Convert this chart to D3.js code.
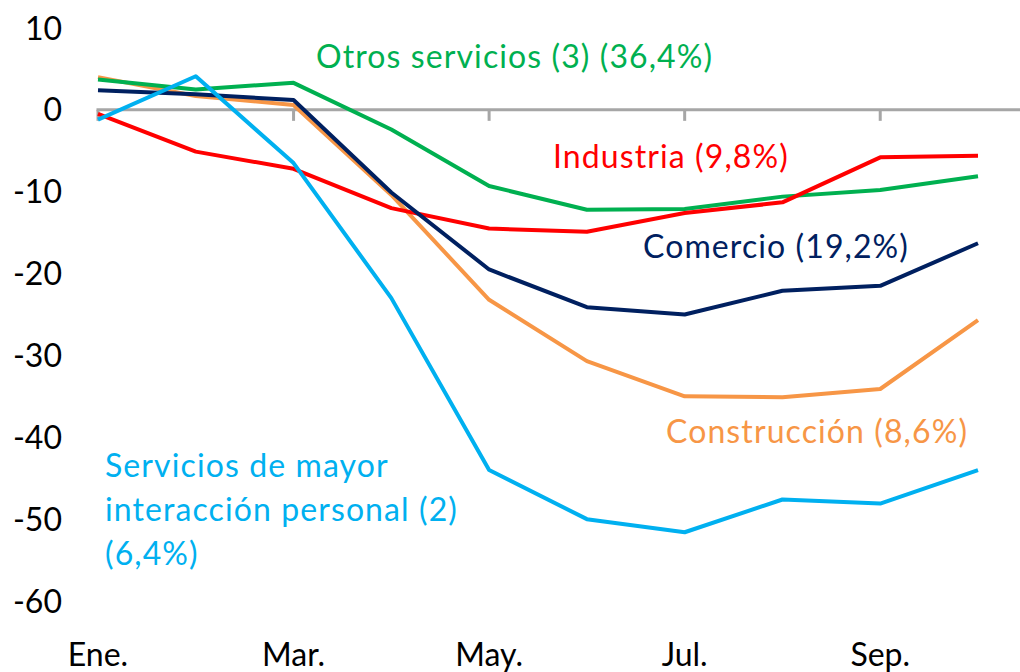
<!DOCTYPE html>
<html>
<head>
<meta charset="utf-8">
<script src="https://cdn.jsdelivr.net/npm/d3@7"></script>
<style>
    body { margin: 0; background: #fff; }
    svg { display: block; font-family: Lato, "Open Sans", sans-serif; }
</style>
</head>
<body>
<div id="vis"></div>
<script>
const months = ["Ene.", "Feb.", "Mar.", "Abr.", "May.", "Jun.", "Jul.", "Ago.", "Sep.", "Oct."];
const monthLabels = ["Ene.", "Mar.", "May.", "Jul.", "Sep."];
const yTicks = [10, 0, -10, -20, -30, -40, -50, -60];

const otrosServicios = [3.7, 2.5, 3.3, -2.4, -9.3, -12.2, -12.1, -10.6, -9.8, -8.1];
const industria = [-0.5, -5.1, -7.2, -12.0, -14.5, -14.9, -12.6, -11.3, -5.8, -5.6];
const comercio = [2.4, 1.9, 1.2, -10.1, -19.5, -24.1, -25.0, -22.1, -21.5, -16.3];
const construccion = [4.0, 1.7, 0.6, -10.4, -23.2, -30.7, -35.0, -35.1, -34.1, -25.7];
const serviciosPersonales = [-1.2, 4.1, -6.5, -23.0, -44.0, -50.0, -51.6, -47.6, -48.1, -44.0];

const width = 1020;
const height = 672;
const margin = { left: 98, right: 42, top: 28, bottom: 71 };

const green = "#00B050";
const red = "#FF0000";
const navy = "#002060";
const orange = "#F79646";
const lightblue = "#00B0F0";
const grey = "#A6A6A6";

const series = [
    { name: "construccion", values: construccion, color: orange },
    { name: "otros", values: otrosServicios, color: green },
    { name: "industria", values: industria, color: red },
    { name: "comercio", values: comercio, color: navy },
    { name: "personales", values: serviciosPersonales, color: lightblue }
];

const svg = d3.select("#vis")
    .append("svg")
    .attr("width", width)
    .attr("height", height)
    .attr("viewBox", `0 0 ${width} ${height}`);

const xScale = d3.scalePoint()
    .domain(months)
    .range([margin.left, width - margin.right]);

const yScale = d3.scaleLinear()
    .domain([-60, 10])
    .range([height - margin.bottom, margin.top]);

// y labels, no axis line
svg.selectAll(".y-label")
    .data(yTicks)
    .join("text")
        .attr("class", "y-label")
        .attr("x", 62)
        .attr("y", d => yScale(d))
        .attr("dy", "0.36em")
        .attr("text-anchor", "end")
        .style("font-size", "32px")
        .attr("fill", "#000")
        .text(d => d);

// category axis sits on zero
svg.append("line")
    .attr("x1", xScale("Ene.") - 1.5)
    .attr("x2", width)
    .attr("y1", yScale(0))
    .attr("y2", yScale(0))
    .attr("stroke", grey)
    .attr("stroke-width", 3);

svg.selectAll(".x-tick")
    .data(monthLabels)
    .join("line")
        .attr("class", "x-tick")
        .attr("x1", d => xScale(d))
        .attr("x2", d => xScale(d))
        .attr("y1", yScale(0))
        .attr("y2", yScale(0) + 11)
        .attr("stroke", grey)
        .attr("stroke-width", 3);

svg.selectAll(".x-label")
    .data(monthLabels)
    .join("text")
        .attr("class", "x-label")
        .attr("x", d => xScale(d))
        .attr("y", 666)
        .attr("text-anchor", "middle")
        .style("font-size", "32px")
        .attr("fill", "#000")
        .text(d => d);

const line = d3.line()
    .x((d, i) => xScale(months[i]))
    .y(d => yScale(d));

svg.selectAll(".series")
    .data(series)
    .join("path")
        .attr("class", "series")
        .attr("d", d => line(d.values))
        .attr("fill", "none")
        .attr("stroke", d => d.color)
        .attr("stroke-width", 4)
        .attr("stroke-linejoin", "round");

// direct labels
const labels = [
    { lines: ["Otros servicios (3) (36,4%)"], x: 316, y: 68, color: green },
    { lines: ["Industria (9,8%)"], x: 553, y: 168, color: red },
    { lines: ["Comercio (19,2%)"], x: 643, y: 258, color: navy },
    { lines: ["Construcción (8,6%)"], x: 666, y: 443, color: orange },
    { lines: ["Servicios de mayor", "interacción personal (2)", "(6,4%)"], x: 105, y: 477, color: lightblue }
];

const labelText = svg.selectAll(".series-label")
    .data(labels)
    .join("text")
        .attr("class", "series-label")
        .attr("x", d => d.x)
        .attr("y", d => d.y)
        .style("font-size", "32px")
        .style("letter-spacing", "1.1px")
        .attr("fill", d => d.color);

labelText.selectAll("tspan")
    .data(d => d.lines.map(l => ({ text: l, x: d.x })))
    .join("tspan")
        .attr("x", d => d.x)
        .attr("dy", (_, i) => i === 0 ? 0 : 44)
        .text(d => d.text);
</script>
</body>
</html>
